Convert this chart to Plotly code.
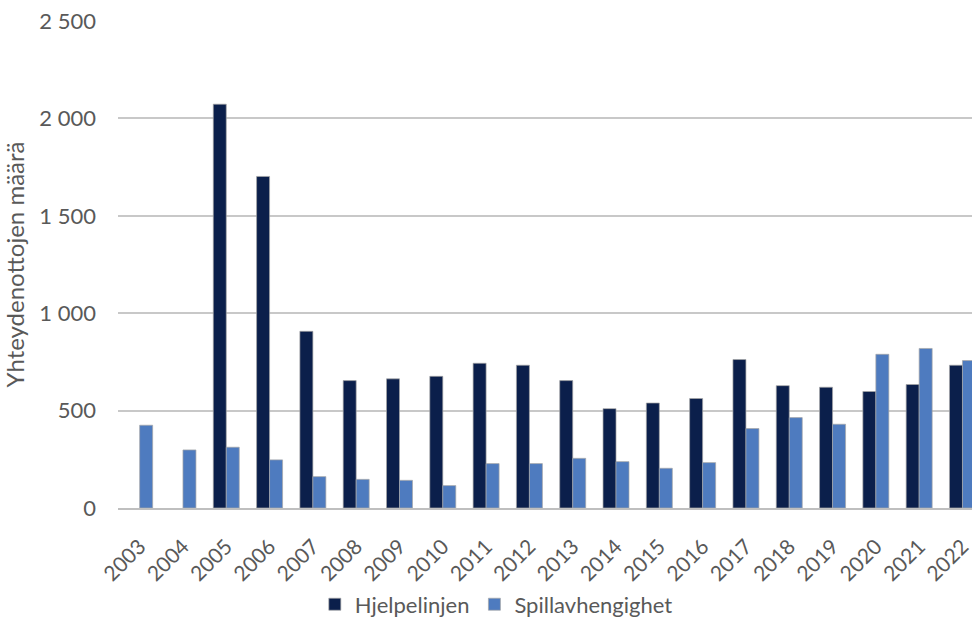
import plotly.graph_objects as go

years = [str(y) for y in range(2003, 2023)]
hjelpelinjen = [None, None, 2073, 1702, 907, 654, 663, 676, 743, 733, 654, 510, 539, 562, 762, 628, 620, 598, 634, 733]
spillavhengighet = [425, 298, 312, 247, 161, 147, 142, 115, 228, 228, 255, 238, 204, 233, 408, 464, 430, 789, 819, 757]

FONT = "Lato"
GRAY = "#595959"

fig = go.Figure()
fig.add_trace(go.Bar(x=years, y=hjelpelinjen, name="Hjelpelinjen",
                     marker=dict(color="#0b1f4b", line=dict(color="#a6a6a6", width=0.7))))
fig.add_trace(go.Bar(x=years, y=spillavhengighet, name="Spillavhengighet",
                     marker=dict(color="#4e7bbf", line=dict(color="#a6a6a6", width=0.7))))

fig.update_layout(
    width=972, height=622,
    margin=dict(l=118, r=0, t=21, b=114, autoexpand=False),
    paper_bgcolor="white", plot_bgcolor="white",
    barmode="group", bargap=0.4, bargroupgap=0,
    separators=", ",
    font=dict(family=FONT, color=GRAY, size=22),
    showlegend=True,
    legend=dict(orientation="h", x=0.443, xanchor="center", y=-0.198, yanchor="middle",
                font=dict(size=22, color=GRAY), itemwidth=30, traceorder="normal",
                borderwidth=0, bgcolor="rgba(0,0,0,0)"),
    xaxis=dict(type="category", range=[-0.5, 19.22], tickangle=-45, automargin=False,
               tickfont=dict(size=21, color=GRAY), showgrid=False,
               showline=True, linecolor="#bfbfbf", linewidth=2, ticks="",
               ticklabelstandoff=16),
    yaxis=dict(range=[0, 2500], dtick=500, tickformat=",", showgrid=True, automargin=False,
               gridcolor="#c8c8c8", gridwidth=1.5, zeroline=False,
               tickfont=dict(size=22, color=GRAY), ticks="", ticklabelstandoff=21,
               title=dict(text="Yhteydenottojen määrä", font=dict(size=24, color=GRAY))),
)

fig.write_html("out.html")
